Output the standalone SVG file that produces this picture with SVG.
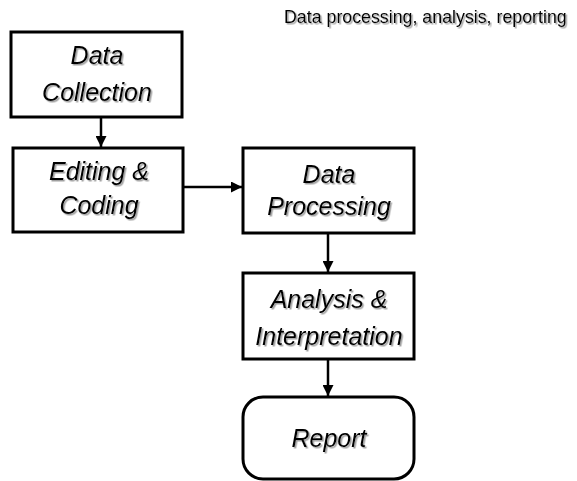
<svg xmlns="http://www.w3.org/2000/svg" width="577" height="481" viewBox="0 0 577 481">
  <style>
    .box { fill: #ffffff; stroke: #000000; stroke-width: 3; }
    .label { font-family: "Liberation Sans", Arial, sans-serif; font-style: italic; font-size: 25px; fill: #000000; text-anchor: middle; filter: url(#shadow); }
    .title { font-family: "Liberation Sans", Arial, sans-serif; font-size: 17.8px; fill: #000000; filter: url(#shadow); }
    .edge { fill: none; stroke: #000000; stroke-width: 2.5; marker-end: url(#arrow); }
  </style>
  <defs>
    <filter id="shadow" x="-10%" y="-20%" width="120%" height="150%">
      <feDropShadow dx="1.5" dy="1.5" stdDeviation="0.6" flood-color="#777777" flood-opacity="0.7"/>
    </filter>
    <marker id="arrow" viewBox="0 0 10 10" refX="10" refY="5" markerWidth="4.4" markerHeight="4.4" orient="auto" markerUnits="strokeWidth">
      <path d="M0,0 L10,5 L0,10 z" fill="#000000"/>
    </marker>
  </defs>
  <rect width="577" height="481" fill="#ffffff"/>

  <text class="title" x="284" y="23">Data processing, analysis, reporting</text>

  <g id="connectors">
    <line class="edge" x1="101" y1="117" x2="101" y2="147"/>
    <line class="edge" x1="183" y1="187" x2="242" y2="187"/>
    <line class="edge" x1="328" y1="233" x2="328" y2="272"/>
    <line class="edge" x1="328" y1="359" x2="328" y2="396"/>
  </g>

  <g id="data-collection">
    <rect class="box" x="11" y="32" width="171" height="85"/>
    <text class="label" x="97" y="64">Data</text>
    <text class="label" x="97" y="101">Collection</text>
  </g>

  <g id="editing-coding">
    <rect class="box" x="13" y="148" width="170" height="84"/>
    <text class="label" x="99" y="180">Editing &amp;</text>
    <text class="label" x="99" y="214">Coding</text>
  </g>

  <g id="data-processing">
    <rect class="box" x="243" y="148" width="171" height="85"/>
    <text class="label" x="329" y="183">Data</text>
    <text class="label" x="329" y="215">Processing</text>
  </g>

  <g id="analysis-interpretation">
    <rect class="box" x="243" y="273" width="171" height="86"/>
    <text class="label" x="329" y="308">Analysis &amp;</text>
    <text class="label" x="329" y="345">Interpretation</text>
  </g>

  <g id="report">
    <rect class="box" x="243" y="397" width="171" height="82" rx="20" ry="20"/>
    <text class="label" x="329" y="447">Report</text>
  </g>
</svg>
